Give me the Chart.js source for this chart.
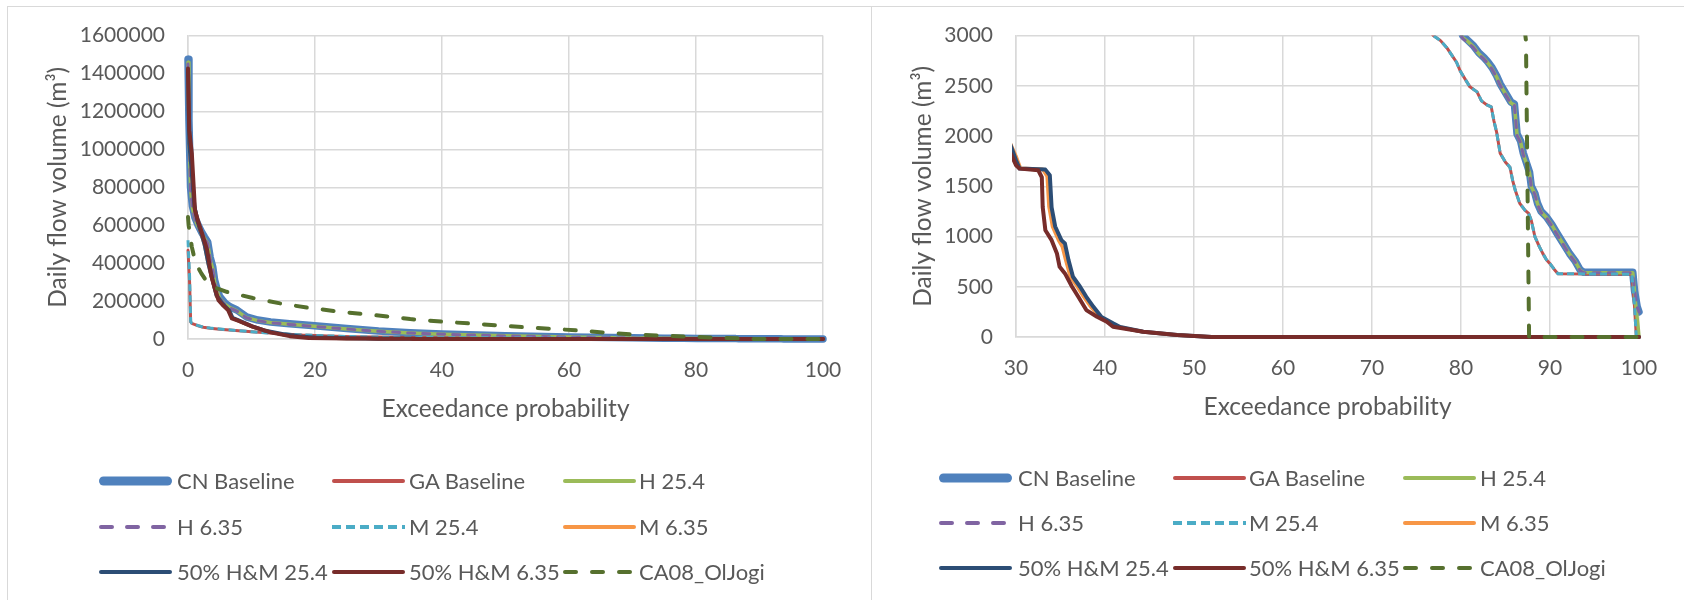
<!DOCTYPE html>
<html>
<head>
<meta charset="utf-8">
<script src="https://cdn.jsdelivr.net/npm/chart.js@4.4.1/dist/chart.umd.min.js"></script>
<style>
  html, body { margin: 0; padding: 0; background: #ffffff; }
  body { width: 1684px; height: 600px; overflow: hidden; position: relative; font-family: Lato, "Open Sans", sans-serif; }
  .panel { position: absolute; border: 1px solid #D9D9D9; background: #ffffff; box-sizing: border-box; }
  #panelL { left: 7px; top: 6px; width: 865px; height: 700px; }
  #panelR { left: 871px; top: 6px; width: 900px; height: 700px; }
  canvas { position: absolute; top: 0; }
  #cL { left: 0; }
  #cR { left: 860px; }
  .lg { position: absolute; color: #595959; font-size: 22px; line-height: 26px; white-space: nowrap; transform: translateY(-50%); }
  .sw { position: absolute; transform: translateY(-50%); }
</style>
</head>
<body>
<div class="panel" id="panelL"></div>
<div class="panel" id="panelR"></div>
<canvas id="cL" width="860" height="600" style="width:860px;height:600px"></canvas>
<canvas id="cR" width="824" height="600" style="width:824px;height:600px"></canvas>
<div id="legends"></div>
<script>
// ---------------- DATA ----------------
const seriesNames = ["CN Baseline", "GA Baseline", "H 25.4", "H 6.35", "M 25.4", "M 6.35", "50% H&M 25.4", "50% H&M 6.35", "CA08_OlJogi"];

const cnX = [0, 0.15, 0.4, 0.7, 1.1, 1.6, 2.2, 2.6, 3.1, 3.5, 3.9, 4.2, 4.6, 5.0, 5.8, 6.6, 7.7, 9.2, 11, 13, 16, 19, 25, 30, 35, 40, 50, 60, 70, 75, 78, 80.2, 80.8, 81.4, 82.0, 82.6, 83.0, 83.5, 84.0, 84.4, 84.8, 85.2, 85.6, 86.0, 86.3, 86.7, 87.0, 87.4, 87.7, 87.9, 88.3, 88.6, 89.0, 89.6, 90.2, 90.8, 91.5, 92.2, 92.8, 93.4, 93.8, 99.3, 99.5, 99.8, 100];
const cnY = [1475000, 1150000, 800000, 700000, 640000, 600000, 560000, 538000, 512000, 430000, 380000, 310000, 260000, 223000, 190000, 170000, 153000, 117000, 100000, 90000, 80000, 72000, 55000, 42000, 33000, 26000, 17000, 10500, 6000, 4300, 3500, 3000, 2950, 2900, 2830, 2780, 2740, 2680, 2600, 2520, 2460, 2400, 2340, 2320, 2020, 1950, 1830, 1720, 1640, 1500, 1430, 1330, 1250, 1195, 1120, 1030, 930, 830, 760, 666, 645, 645, 460, 300, 250];

const h254X = [0, 0.15, 0.4, 0.7, 1.1, 1.6, 2.2, 2.6, 3.1, 3.5, 3.9, 4.2, 4.6, 5.0, 5.8, 6.6, 7.7, 9.2, 11, 13, 16, 19, 25, 30, 35, 40, 50, 60, 70, 75, 78, 80.2, 80.8, 81.4, 82.0, 82.6, 83.0, 83.5, 84.0, 84.4, 84.8, 85.2, 85.6, 86.0, 86.3, 86.7, 87.0, 87.4, 87.7, 87.9, 88.3, 88.6, 89.0, 89.6, 90.2, 90.8, 91.5, 92.2, 92.8, 93.4, 93.8, 99.3, 99.6, 99.9, 100];
const h254Y = [1460000, 1130000, 790000, 690000, 632000, 592000, 552000, 530000, 505000, 420000, 370000, 300000, 252000, 215000, 184000, 165000, 148000, 113000, 97000, 87000, 78000, 70000, 53000, 41000, 32000, 25500, 16500, 10200, 5900, 4200, 3450, 2980, 2940, 2890, 2820, 2770, 2730, 2670, 2590, 2510, 2450, 2390, 2330, 2310, 2010, 1940, 1820, 1715, 1635, 1495, 1425, 1325, 1245, 1190, 1115, 1025, 925, 825, 755, 662, 642, 640, 350, 100, 0];

const h635X = [0, 0.15, 0.4, 0.7, 1.1, 1.6, 2.2, 2.6, 3.1, 3.5, 3.9, 4.2, 4.6, 5.0, 5.8, 6.6, 7.7, 9.2, 11, 13, 16, 19, 25, 30, 35, 40, 50, 60, 70, 75, 78, 80.2, 80.8, 81.4, 82.0, 82.6, 83.0, 83.5, 84.0, 84.4, 84.8, 85.2, 85.6, 86.0, 86.3, 86.7, 87.0, 87.4, 87.7, 87.9, 88.3, 88.6, 89.0, 89.6, 90.2, 90.8, 91.5, 92.2, 92.8, 93.4, 93.8, 99.3, 99.5, 99.8, 100];
const h635Y = [1450000, 1120000, 785000, 688000, 630000, 590000, 550000, 528000, 503000, 418000, 368000, 298000, 250000, 214000, 183000, 164000, 147000, 112000, 96000, 86000, 77000, 69000, 52500, 40500, 31500, 25000, 16300, 10100, 5800, 4150, 3420, 2970, 2930, 2880, 2815, 2765, 2725, 2665, 2585, 2505, 2445, 2385, 2325, 2305, 2005, 1935, 1815, 1710, 1630, 1490, 1420, 1320, 1240, 1185, 1110, 1020, 920, 820, 750, 660, 640, 640, 455, 295, 250];

const gaX = [0, 0.25, 0.42, 0.6, 1.0, 1.6, 2.4, 3.5, 5, 7.5, 10, 13, 15, 18, 22, 26, 30, 35, 40, 50, 60, 70, 76.9, 77.7, 78.4, 79.0, 79.5, 79.9, 80.3, 81.0, 81.8, 82.3, 82.9, 83.4, 83.7, 84.0, 84.4, 85.0, 85.5, 85.8, 86.1, 86.6, 87.2, 87.6, 87.9, 88.3, 88.8, 89.2, 89.6, 90.0, 90.5, 90.9, 99.2, 99.5, 99.7, 100];
const gaY = [468000, 300000, 90000, 82000, 77000, 70000, 62000, 57000, 52000, 45000, 38000, 31000, 27000, 21000, 16000, 12500, 10000, 8300, 7000, 5500, 4500, 3700, 3000, 2950, 2880, 2800, 2735, 2650, 2590, 2490, 2440, 2350, 2310, 2290, 2150, 2040, 1830, 1740, 1690, 1560, 1460, 1330, 1260, 1230, 1160, 1000, 900, 830, 770, 730, 670, 630, 625, 300, 0, 0];

const m254X = [0, 0.25, 0.42, 0.6, 1.0, 1.6, 2.4, 3.5, 5, 7.5, 10, 13, 15, 18, 22, 26, 30, 35, 40, 50, 60, 70, 76.9, 77.7, 78.4, 79.0, 79.5, 79.9, 80.3, 81.0, 81.8, 82.3, 82.9, 83.4, 83.7, 84.0, 84.4, 85.0, 85.5, 85.8, 86.1, 86.6, 87.2, 87.6, 87.9, 88.3, 88.8, 89.2, 89.6, 90.0, 90.5, 90.9, 99.2, 99.5, 99.7, 100];
const m254Y = [521000, 330000, 92000, 83000, 77500, 70500, 62500, 57500, 52300, 45200, 38200, 31200, 27200, 21200, 16100, 12600, 10100, 8350, 7050, 5530, 4520, 3710, 3000, 2950, 2880, 2800, 2735, 2650, 2590, 2490, 2440, 2350, 2310, 2290, 2150, 2040, 1830, 1740, 1690, 1560, 1460, 1330, 1260, 1230, 1160, 1000, 900, 830, 770, 730, 670, 630, 625, 300, 0, 0];

const m635X = [0, 0.2, 0.5, 1.0, 1.5, 2.0, 2.6, 3.2, 3.8, 4.5, 5.5, 6.5, 7.0, 8.5, 10, 12, 15, 18, 20, 25, 28, 30, 30.5, 33.0, 33.5, 33.7, 34.1, 34.8, 35.2, 35.6, 36.1, 36.9, 37.6, 38.4, 39.4, 40.7, 41.6, 44.2, 48, 52, 100];
const m635Y = [1400000, 1020000, 900000, 690000, 615000, 565000, 495000, 395000, 315000, 225000, 180000, 148000, 110000, 88000, 66000, 44000, 24000, 12000, 7000, 3200, 2200, 1800, 1680, 1670, 1600, 1300, 1100, 960, 900, 760, 600, 500, 400, 300, 200, 136, 100, 53, 20, 0, 0];

const hm254X = [0, 0.2, 0.5, 1.0, 1.5, 2.0, 2.6, 3.2, 3.8, 4.5, 5.5, 6.5, 7.0, 8.5, 10, 12, 15, 18, 20, 25, 28, 30, 30.4, 33.3, 33.8, 34.0, 34.4, 35.1, 35.5, 35.9, 36.4, 37.2, 37.9, 38.7, 39.6, 40.9, 41.7, 44.3, 48.1, 52, 100];
const hm254Y = [1410000, 1030000, 920000, 700000, 620000, 568000, 500000, 400000, 320000, 230000, 183000, 150000, 112000, 90000, 68000, 45000, 25000, 12500, 7500, 3300, 2250, 1760, 1676, 1666, 1610, 1290, 1100, 964, 930, 765, 600, 500, 400, 300, 200, 136, 100, 53, 20, 0, 0];

const hm635X = [0, 0.2, 0.6, 1.1, 1.6, 2.4, 3.0, 3.7, 4.2, 4.8, 5.6, 6.3, 6.9, 8.0, 10.2, 13, 16, 19, 22, 25, 28, 30, 30.4, 32.5, 32.9, 33.0, 33.3, 34.0, 34.6, 34.9, 35.5, 36.3, 37.0, 37.9, 39.1, 40.2, 40.9, 44.3, 48.1, 52, 100];
const hm635Y = [1426000, 1100000, 980000, 680000, 620000, 537000, 470000, 328000, 270000, 205000, 175000, 153000, 109000, 95000, 65000, 35000, 15000, 5500, 3800, 2900, 2100, 1710, 1676, 1660, 1590, 1294, 1063, 964, 831, 699, 633, 500, 400, 268, 202, 152, 102, 53, 20, 0, 0];

const caX = [0, 0.1, 0.6, 1.2, 2.1, 3.0, 3.9, 6.1, 10.2, 14.5, 19.2, 25, 32, 35, 40.2, 44.4, 48.8, 53.4, 57.6, 62, 66.3, 70.7, 75, 79.5, 83.8, 87.3, 87.65, 100];
const caY = [644000, 600000, 486000, 400000, 346000, 300000, 275000, 249000, 216000, 188000, 163000, 140000, 117000, 105000, 91000, 82000, 72000, 61000, 53000, 44000, 32000, 23000, 17000, 12000, 5500, 2950, 0, 0];

const leftXTicks = [0, 20, 40, 60, 80, 100];
const leftYTicks = [0, 200000, 400000, 600000, 800000, 1000000, 1200000, 1400000, 1600000];
const rightXTicks = [30, 40, 50, 60, 70, 80, 90, 100];
const rightYTicks = [0, 500, 1000, 1500, 2000, 2500, 3000];

const xTitle = "Exceedance probability";
const yTitle = "Daily flow volume (m\u00B3)";

// ---------------- STYLES ----------------
const styles = [
  { color: "#4F81BD", width: 7.5, dash: [],     cap: "round" },
  { color: "#C0504D", width: 3,   dash: [],     cap: "round" },
  { color: "#9BBB59", width: 3.5, dash: [],     cap: "round" },
  { color: "#8064A2", width: 3,   dash: [7, 8], cap: "round" },
  { color: "#4BACC6", width: 3,   dash: [7, 4], cap: "butt" },
  { color: "#F79646", width: 3.5, dash: [],     cap: "round" },
  { color: "#2C4D75", width: 4,   dash: [],     cap: "round" },
  { color: "#772C2A", width: 4,   dash: [],     cap: "round" },
  { color: "#56702E", width: 4,   dash: [11, 16], cap: "round" }
];
const seriesX = [cnX, gaX, h254X, h635X, m254X, m635X, hm254X, hm635X, caX];
const seriesY = [cnY, gaY, h254Y, h635Y, m254Y, m635Y, hm254Y, hm635Y, caY];

const FONT = "Lato";
const TXT = "#595959";
const GRID = "#D9D9D9";
const TICK_SIZE = 21;
const TITLE_SIZE = 24.5;

function makeDatasets() {
  const n = seriesNames.length;
  return seriesNames.map((name, i) => ({
    label: name,
    data: seriesX[i].map((x, j) => ({ x: x, y: seriesY[i][j] })),
    showLine: true,
    borderColor: styles[i].color,
    backgroundColor: styles[i].color,
    borderWidth: styles[i].width,
    borderDash: styles[i].dash,
    borderCapStyle: styles[i].cap,
    borderJoinStyle: "round",
    pointRadius: 0,
    pointHoverRadius: 0,
    tension: 0,
    fill: false,
    order: n - i,
    clip: { left: 4, top: 0, right: 4, bottom: 4 }
  }));
}

function makeChart(canvas, cfg) {
  const lh = TITLE_SIZE * 1.2;
  const tlh = TICK_SIZE * 1.2;
  return new Chart(canvas, {
    type: "scatter",
    data: { datasets: makeDatasets() },
    options: {
      responsive: false,
      animation: false,
      events: [],
      layout: { padding: { left: 0, top: cfg.top, right: cfg.right, bottom: 0 } },
      plugins: { legend: { display: false }, tooltip: { enabled: false } },
      scales: {
        x: {
          type: "linear", min: cfg.xTicks[0], max: cfg.xTicks[cfg.xTicks.length - 1],
          afterBuildTicks: s => { s.ticks = cfg.xTicks.map(v => ({ value: v })); },
          afterFit: s => { s.height = 600 - cfg.bottom; },
          ticks: { color: TXT, font: { family: FONT, size: TICK_SIZE }, padding: cfg.xTickY - cfg.bottom - tlh / 2,
                   maxRotation: 0, autoSkip: false, callback: v => String(v) },
          grid: { color: GRID, lineWidth: 1.5, drawTicks: false },
          border: { color: GRID, width: 1.5 },
          title: { display: true, text: xTitle, color: TXT, font: { family: FONT, size: TITLE_SIZE },
                   padding: { top: 0, bottom: 600 - cfg.xTitleY - lh / 2 } }
        },
        y: {
          type: "linear", min: cfg.yTicks[0], max: cfg.yTicks[cfg.yTicks.length - 1],
          afterBuildTicks: s => { s.ticks = cfg.yTicks.map(v => ({ value: v })); },
          afterFit: s => { s.width = cfg.left; },
          ticks: { color: TXT, font: { family: FONT, size: TICK_SIZE }, padding: 23, autoSkip: false,
                   callback: v => String(v) },
          grid: { color: GRID, lineWidth: 1.5, drawTicks: false },
          border: { color: GRID, width: 1.5 },
          title: { display: true, text: yTitle, color: TXT, font: { family: FONT, size: TITLE_SIZE },
                   padding: { top: cfg.yTitleX - lh / 2, bottom: 0 } }
        }
      }
    }
  });
}

// left chart: plot area 188..823 x 35..339 (canvas at x=0)
makeChart(document.getElementById("cL"), {
  xTicks: leftXTicks, yTicks: leftYTicks,
  left: 188, right: 860 - 823, top: 35, bottom: 339,
  xTickY: 370, xTitleY: 409, yTitleX: 58
});
// right chart: plot area 1016..1639 x 35..337 (canvas at x=860)
makeChart(document.getElementById("cR"), {
  xTicks: rightXTicks, yTicks: rightYTicks,
  left: 1016 - 860, right: 824 - (1639 - 860), top: 35, bottom: 337,
  xTickY: 368, xTitleY: 407, yTitleX: 63
});

// ---------------- LEGENDS (HTML) ----------------
const legendBoxes = [
  { sx: [99, 332, 563], tx: [177, 409, 639], ry: [481, 527, 572] },
  { sx: [939, 1173, 1403], tx: [1018, 1249, 1480], ry: [478, 523, 568] }
];
const legendSample = [
  { w: 9, dash: "", cap: "round" },
  { w: 4, dash: "", cap: "round" },
  { w: 4, dash: "", cap: "round" },
  { w: 4, dash: "11 15", cap: "round" },
  { w: 4, dash: "9 5", cap: "butt" },
  { w: 4, dash: "", cap: "round" },
  { w: 4, dash: "", cap: "round" },
  { w: 4, dash: "", cap: "round" },
  { w: 4, dash: "11 16", cap: "round" }
];
const host = document.getElementById("legends");
legendBoxes.forEach(box => {
  seriesNames.forEach((name, i) => {
    const col = i % 3, row = Math.floor(i / 3);
    const s = legendSample[i];
    const svgNS = "http://www.w3.org/2000/svg";
    const svg = document.createElementNS(svgNS, "svg");
    svg.setAttribute("width", "76"); svg.setAttribute("height", "14");
    svg.setAttribute("class", "sw");
    svg.style.left = box.sx[col] + "px";
    svg.style.top = box.ry[row] + "px";
    const ln = document.createElementNS(svgNS, "line");
    const inset = s.cap === "round" ? s.w / 2 : 0;
    ln.setAttribute("x1", String(inset)); ln.setAttribute("x2", String(73 - inset));
    ln.setAttribute("y1", "7"); ln.setAttribute("y2", "7");
    ln.setAttribute("stroke", styles[i].color);
    ln.setAttribute("stroke-width", String(s.w));
    ln.setAttribute("stroke-linecap", s.cap);
    if (s.dash) ln.setAttribute("stroke-dasharray", s.dash);
    svg.appendChild(ln);
    host.appendChild(svg);
    const t = document.createElement("div");
    t.className = "lg";
    t.textContent = name;
    t.style.left = box.tx[col] + "px";
    t.style.top = box.ry[row] + "px";
    host.appendChild(t);
  });
});
</script>
</body>
</html>
